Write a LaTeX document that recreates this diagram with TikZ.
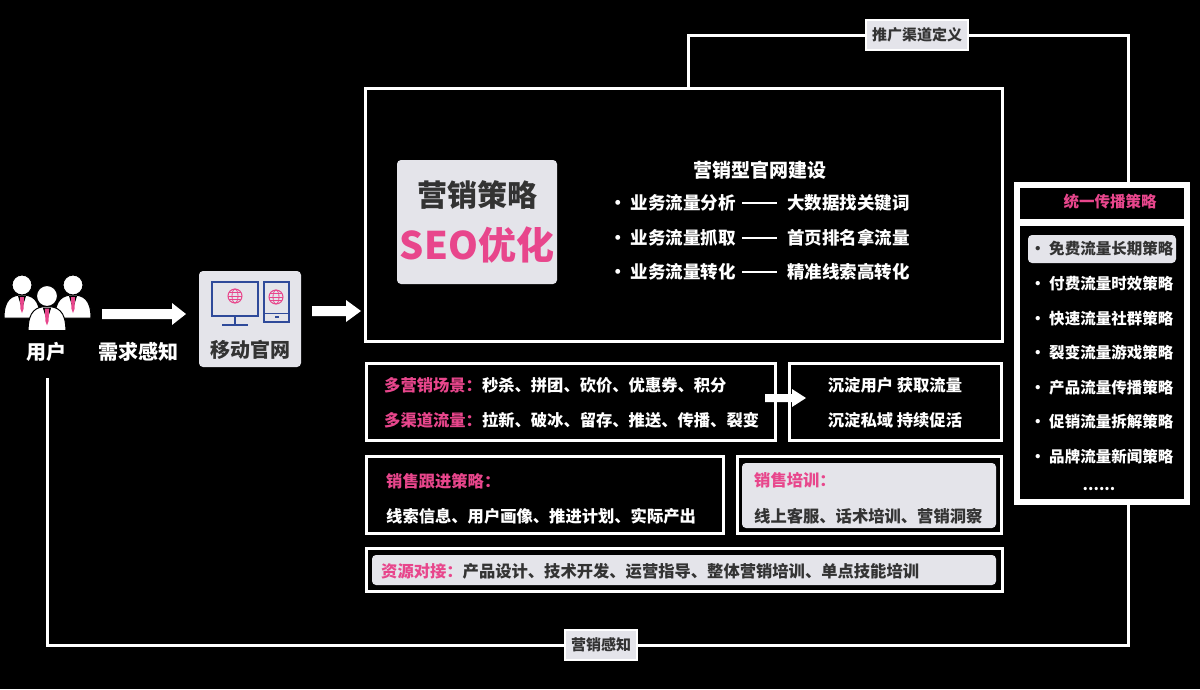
\documentclass[tikz,border=0pt]{standalone}
\usepackage{fontspec}
\setmainfont{Noto Sans CJK SC}[BoldFont={* Black}]
\usetikzlibrary{arrows.meta}
\definecolor{pk}{HTML}{E8468C}
\definecolor{gy}{HTML}{E4E4EA}
\definecolor{dk}{HTML}{333333}
\definecolor{bl}{HTML}{2F4A9A}
\newcommand{\fsA}{\bfseries\fontsize{16.3}{18}\selectfont}
\newcommand{\fsR}{\bfseries\fontsize{15.5}{17}\selectfont}
\newcommand{\fsB}{\bfseries\fontsize{17.5}{19}\selectfont}
\tikzset{
 frame/.style={draw=white,line width=3pt},
 gbox/.style={fill=gy,rounded corners=4pt},
 wt/.style={text=white,font=\fsA,inner sep=0pt},
 dt/.style={text=dk,font=\fsA,inner sep=0pt},
 pt/.style={text=pk,font=\fsA,inner sep=0pt},
 loop/.style={draw=white,line width=3pt},
 bigarrow/.style={fill=white},
 tag/.style={draw=white,line width=2pt,fill=gy,text=dk,font=\bfseries\fontsize{15}{17}\selectfont,inner xsep=6pt,inner ysep=8pt}
}
\begin{document}
\begin{tikzpicture}[x=1pt,y=-1pt]
\fill[black] (0,0) rectangle (1200,689);
\useasboundingbox (0,0) rectangle (1200,689);
% loops
\coordinate (u0) at (47,378);
\coordinate (u1) at (47,645);
\coordinate (u2) at (1128,645);
\coordinate (u3) at (1128,505);
\draw[loop] (u0) -- (u1) -- (u2) -- (u3);
\coordinate (t0) at (688,88);
\coordinate (t1) at (688,35);
\coordinate (t2) at (1128,35);
\coordinate (t3) at (1128,182);
\draw[loop] (t0) -- (t1) -- (t2) -- (t3);
\node[tag] (tagA) at (917,35) {推广渠道定义};
\node[tag] (tagB) at (601,645) {营销感知};
% people icon
\foreach \px/\py/\s in {22/285/1,73/285/1,47/296/1.05}{
  \begin{scope}[shift={(\px,\py)},scale=\s]
  \fill[white,draw=black,line width=1pt] (-18,33) .. controls (-18,14) and (-10,10) .. (0,10) .. controls (10,10) and (18,14) .. (18,33) -- cycle;
  \fill[white,draw=black,line width=1pt] (0,0) circle (10);
  \fill[black] (-4,11) -- (4,11) -- (0,24) -- cycle;
  \fill[pk] (-2,12) -- (2,12) -- (1.5,24) -- (0,28) -- (-1.5,24) -- cycle;
  \end{scope}
}
\node[wt,font=\bfseries\fontsize{20}{22}\selectfont] (user) at (47,352) {用户};
% arrow 1
\fill[bigarrow] (102,309) -- (172,309) -- (172,303) -- (186,314) -- (172,325) -- (172,319) -- (102,319) -- cycle;
\node[wt,font=\bfseries\fontsize{20}{22}\selectfont] (need) at (138,352) {需求感知};
% mobile site
\fill[gbox] (199,271) rectangle (301,367);
\draw[bl,line width=2pt] (212,282) rectangle (258,316);
\draw[bl,line width=2pt] (235,316) -- (235,325);
\draw[bl,line width=2.5pt] (222,325) -- (248,325);
\draw[bl,line width=1.5pt] (264,282) rectangle (289,322);
\draw[bl,line width=1pt] (264,313) -- (289,313);
\fill[bl] (275,316) rectangle (279,318);
\foreach \cx/\cy in {235/296,276/297}{
  \draw[pk,line width=1pt] (\cx,\cy) circle (7);
  \draw[pk,line width=0.8pt] (\cx,\cy) ellipse (3 and 7);
  \draw[pk,line width=0.8pt] (\cx-7,\cy) -- (\cx+7,\cy);
  \draw[pk,line width=0.8pt] (\cx-6,\cy-3.5) -- (\cx+6,\cy-3.5) (\cx-6,\cy+3.5) -- (\cx+6,\cy+3.5);
}
\node[dt,font=\bfseries\fontsize{20}{22}\selectfont] (mob) at (250,350) {移动官网};
% arrow 2
\fill[bigarrow] (312,306) -- (346,306) -- (346,300) -- (361,311) -- (346,322) -- (346,316) -- (312,316) -- cycle;
% main box
\draw[frame] (365,88) rectangle (1002,341);
\fill[gbox] (397,160) rectangle (557,284);
\node[dt,font=\bfseries\fontsize{30}{32}\selectfont] (seo1) at (477,195) {营销策略};
\node[pt,font=\bfseries\fontsize{38}{40}\selectfont] (seo2) at (477,245) {SEO优化};
\node[wt,font=\bfseries\fontsize{19}{21}\selectfont] (ttl) at (760,170) {营销型官网建设};
\node[wt,font=\fsB,anchor=west] (l1) at (609,203) {· 业务流量分析};
\node[wt,font=\fsB,anchor=west] (l2) at (609,238) {· 业务流量抓取};
\node[wt,font=\fsB,anchor=west] (l3) at (609,272) {· 业务流量转化};
\foreach \yy in {203,238,272}{\draw[white,line width=1.2pt] (742,\yy) -- (777,\yy);}
\node[wt,font=\fsB,anchor=west] (r1) at (787,203) {大数据找关键词};
\node[wt,font=\fsB,anchor=west] (r2) at (787,238) {首页排名拿流量};
\node[wt,font=\fsB,anchor=west] (r3) at (787,272) {精准线索高转化};
% scenes
\draw[frame] (366,363) rectangle (775,440);
\node[anchor=west,inner sep=0pt,font=\fsA] (s1) at (384,385) {\textcolor{pk}{多营销场景：}\textcolor{white}{秒杀、拼团、砍价、优惠券、积分}};
\node[anchor=west,inner sep=0pt,font=\fsA] (s2) at (384,420) {\textcolor{pk}{多渠道流量：}\textcolor{white}{拉新、破冰、留存、推送、传播、裂变}};
\draw[frame] (789,363) rectangle (1001,440);
\node[wt] (d1) at (895,385) {沉淀用户\ 获取流量};
\node[wt] (d2) at (895,420) {沉淀私域\ 持续促活};
\fill[bigarrow] (765,394) -- (792,394) -- (792,389) -- (806,398) -- (792,407) -- (792,402) -- (765,402) -- cycle;
% sales
\draw[frame] (366,456) rectangle (723,533);
\node[pt,anchor=west] (f1) at (386,481) {销售跟进策略：};
\node[wt,anchor=west] (f2) at (386,516) {线索信息、用户画像、推进计划、实际产出};
\draw[frame] (737,456) rectangle (1001,533);
\fill[gbox] (742,463) rectangle (996,528);
\node[pt,anchor=west] (g1) at (754,480) {销售培训：};
\node[dt,anchor=west] (g2) at (754,516) {线上客服、话术培训、营销洞察};
% resources
\draw[frame] (366,548) rectangle (1002,591);
\fill[gbox] (372,555) rectangle (996,585);
\node[anchor=west,inner sep=0pt,font=\fsA] (res) at (381,571) {\textcolor{pk}{资源对接：}\textcolor{dk}{产品设计、技术开发、运营指导、整体营销培训、单点技能培训}};
% right panel
\fill[white] (1014,182) rectangle (1190,505);
\fill[black] (1020,188) rectangle (1184,219);
\fill[black] (1020,226) rectangle (1184,499);
\node[pt,font=\fsR] (rt) at (1110,202) {统一传播策略};
\fill[gbox] (1028,235) rectangle (1176,263);
\node[dt,font=\fsR,anchor=west] (p1) at (1030,249) {· 免费流量长期策略};
\node[wt,font=\fsR,anchor=west] (p2) at (1030,284) {· 付费流量时效策略};
\node[wt,font=\fsR,anchor=west] (p3) at (1030,319) {· 快速流量社群策略};
\node[wt,font=\fsR,anchor=west] (p4) at (1030,353) {· 裂变流量游戏策略};
\node[wt,font=\fsR,anchor=west] (p5) at (1030,388) {· 产品流量传播策略};
\node[wt,font=\fsR,anchor=west] (p6) at (1030,422) {· 促销流量拆解策略};
\node[wt,font=\fsR,anchor=west] (p7) at (1030,457) {· 品牌流量新闻策略};
\node[wt,font=\fsR] (p8) at (1099,489) {......};
\end{tikzpicture}
\end{document}
